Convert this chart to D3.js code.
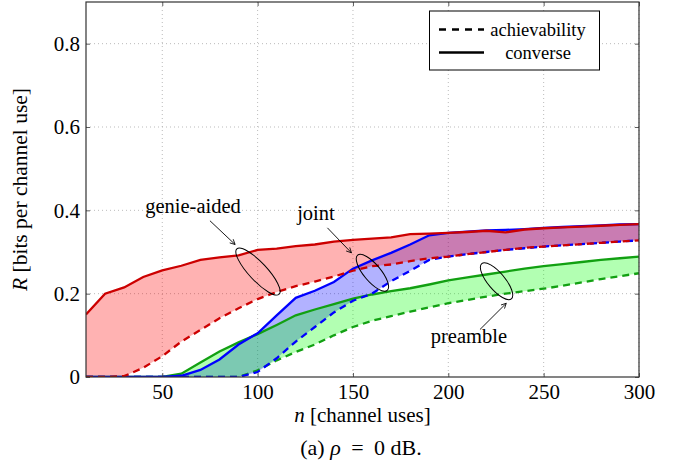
<!DOCTYPE html>
<html><head><meta charset="utf-8">
<script src="https://cdn.jsdelivr.net/npm/d3@7"></script>
<style>body{margin:0;background:#fff}svg{display:block}</style>
</head><body>
<svg id="c" width="681" height="468" font-family="Liberation Serif"></svg>
<script>
// ---- data ----
const nVals = [10,20,30,40,50,60,70,80,90,100,110,120,130,140,150,160,170,180,190,200,210,220,230,240,250,260,270,280,290,300];
const genieConverse = [0.150,0.200,0.215,0.240,0.256,0.267,0.281,0.287,0.292,0.305,0.308,0.314,0.318,0.325,0.329,0.332,0.335,0.343,0.344,0.346,0.348,0.351,0.347,0.354,0.357,0.359,0.361,0.363,0.365,0.367];
const genieAchiev   = [0,0,0.002,0.022,0.050,0.085,0.113,0.141,0.165,0.187,0.204,0.218,0.229,0.241,0.255,0.266,0.270,0.278,0.285,0.289,0.295,0.300,0.305,0.310,0.313,0.316,0.319,0.322,0.325,0.328];
const jointConverse = [0,0,0,0,0,0.003,0.017,0.042,0.078,0.105,0.148,0.190,0.207,0.228,0.260,0.280,0.298,0.318,0.340,0.346,0.349,0.352,0.353,0.355,0.358,0.360,0.362,0.364,0.366,0.367];
const jointAchiev   = [0,0,0,0,0,0,0,0,0,0.012,0.045,0.085,0.120,0.155,0.183,0.200,0.230,0.255,0.281,0.289,0.295,0.300,0.305,0.309,0.313,0.316,0.319,0.322,0.325,0.328];
const preConverse   = [0,0,0,0,0,0.008,0.035,0.061,0.083,0.103,0.125,0.148,0.162,0.175,0.188,0.198,0.206,0.213,0.222,0.232,0.239,0.246,0.253,0.260,0.266,0.271,0.276,0.281,0.285,0.289];
const preAchiev     = [0,0,0,0,0,0,0,0,0,0.016,0.040,0.060,0.078,0.100,0.120,0.135,0.146,0.157,0.167,0.177,0.185,0.193,0.200,0.206,0.212,0.219,0.227,0.235,0.242,0.249];
const xTicks = [50,100,150,200,250,300];
const yTicks = [0,0.2,0.4,0.6,0.8];
const legendLabels = ["achievability","converse"];
const annoLabels = ["genie-aided","joint","preamble"];

// ---- layout ----
const FONT = "Liberation Serif";
const svg = d3.select("#c");
const L=86, R=639, T=2, B=377;
const x = d3.scaleLinear().domain([10,300]).range([L,R]);
const y = d3.scaleLinear().domain([0,0.9]).range([B,T]);

const series = [
  {name:"joint", conv:jointConverse, ach:jointAchiev, fill:"rgb(0,0,255)", line:"#0000ff"},
  {name:"pre", conv:preConverse, ach:preAchiev, fill:"rgb(0,255,0)", line:"#12a012"},
  {name:"genie", conv:genieConverse, ach:genieAchiev, fill:"rgb(255,0,0)", line:"#cc0000"}
];

// grid
const g = svg.append("g");
g.selectAll(".gx").data(xTicks).enter().append("line")
  .attr("x1",d=>x(d)).attr("x2",d=>x(d)).attr("y1",T).attr("y2",B)
  .attr("stroke","#aaa").attr("stroke-width",0.8).attr("stroke-dasharray","1,3");
g.selectAll(".gy").data(yTicks.filter(d=>d>0)).enter().append("line")
  .attr("x1",L).attr("x2",R).attr("y1",d=>y(d)).attr("y2",d=>y(d))
  .attr("stroke","#aaa").attr("stroke-width",0.8).attr("stroke-dasharray","1,3");

svg.append("clipPath").attr("id","pc").append("rect")
  .attr("x",L).attr("y",T).attr("width",R-L).attr("height",B-T);
const plot = svg.append("g").attr("clip-path","url(#pc)");

// fills
series.forEach(s=>{
  const pts = nVals.map((n,i)=>({n, hi:s.conv[i], lo:s.ach[i]}));
  const area = d3.area().x(d=>x(d.n)).y0(d=>y(d.lo)).y1(d=>y(d.hi));
  plot.append("path").datum(pts).attr("d",area).attr("fill",s.fill).attr("fill-opacity",0.3).attr("stroke","none");
});
// lines
const drawOrder = [series[1], series[0], series[2]];
drawOrder.forEach(s=>{
  const line = d3.line().x((d,i)=>x(nVals[i])).y(d=>y(d));
  plot.append("path").datum(s.ach).attr("d",line).attr("fill","none")
    .attr("stroke",s.line).attr("stroke-width",2.3).attr("stroke-dasharray","7,5");
  plot.append("path").datum(s.conv).attr("d",line).attr("fill","none")
    .attr("stroke",s.line).attr("stroke-width",2.3);
});

// axes
const xAxisB = d3.axisBottom(x).tickValues(xTicks).tickSizeInner(-4).tickSizeOuter(0).tickPadding(7).tickFormat(d3.format("d"));
const xAxisT = d3.axisTop(x).tickValues(xTicks).tickSizeInner(-4).tickSizeOuter(0).tickFormat("");
const yAxisL = d3.axisLeft(y).tickValues(yTicks).tickSizeInner(-4).tickSizeOuter(0).tickPadding(6).tickFormat(d=>d===0?"0":d3.format(".1f")(d));
const yAxisR = d3.axisRight(y).tickValues(yTicks).tickSizeInner(-4).tickSizeOuter(0).tickFormat("");
function styleAxis(sel){
  sel.attr("font-family",FONT).attr("font-size",21);
  sel.select(".domain").remove();
  sel.selectAll("line").attr("stroke","#333").attr("stroke-width",0.8);
  sel.selectAll("text").attr("font-family",FONT).attr("font-size",21).attr("fill","#000");
}
svg.append("g").attr("transform",`translate(0,${B})`).call(xAxisB).call(styleAxis);
svg.append("g").attr("transform",`translate(0,${T})`).call(xAxisT).call(styleAxis);
svg.append("g").attr("transform",`translate(${L},0)`).call(yAxisL).call(styleAxis);
svg.append("g").attr("transform",`translate(${R},0)`).call(yAxisR).call(styleAxis);
svg.append("rect").attr("x",L).attr("y",T).attr("width",R-L).attr("height",B-T)
  .attr("fill","none").attr("stroke","#333").attr("stroke-width",1.2);

// axis labels
const xl = svg.append("text").attr("x",(L+R)/2).attr("y",421.5).attr("text-anchor","middle").attr("font-size",21).attr("font-family",FONT);
xl.append("tspan").attr("font-style","italic").text("n");
xl.append("tspan").text(" [channel uses]");
const yl = svg.append("text").attr("transform",`translate(27,${(T+B)/2}) rotate(-90)`).attr("text-anchor","middle").attr("font-size",21.5).attr("font-family",FONT);
yl.append("tspan").attr("font-style","italic").text("R");
yl.append("tspan").text(" [bits per channel use]");
const cap = svg.append("text").attr("x",361).attr("y",455).attr("text-anchor","middle").attr("font-size",22).attr("font-family",FONT);
cap.append("tspan").text("(a) ");
cap.append("tspan").attr("font-style","italic").text("ρ");
cap.append("tspan").attr("dx",5).text(" =");
cap.append("tspan").attr("dx",5).text(" 0 dB.");

// annotations (data coords)
const annos = [
  {label:annoLabels[0], tx:66.1, ty:0.394, a0:[75.0,0.375], a1:[88.2,0.318], cx:100.2, cy:0.253, rx:31, ry:9, rot:47},
  {label:annoLabels[1], tx:130.6, ty:0.377, a0:[136.6,0.358], a1:[149.2,0.298], cx:160.2, cy:0.250, rx:23, ry:8.5, rot:50},
  {label:annoLabels[2], tx:210.8, ty:0.082, a0:[216.6,0.114], a1:[230.4,0.177], cx:225.3, cy:0.230, rx:23, ry:8.5, rot:50}
];
svg.append("defs").append("marker").attr("id","arr").attr("viewBox","0 0 10 10").attr("refX",9).attr("refY",5)
  .attr("markerWidth",7).attr("markerHeight",7).attr("orient","auto")
  .append("path").attr("d","M1,1 L9,5 L1,9").attr("fill","none").attr("stroke","#000").attr("stroke-width",1.3);
annos.forEach(a=>{
  svg.append("ellipse").attr("cx",0).attr("cy",0).attr("rx",a.rx).attr("ry",a.ry)
    .attr("transform",`translate(${x(a.cx)},${y(a.cy)}) rotate(${a.rot})`)
    .attr("fill","none").attr("stroke","#000").attr("stroke-width",1);
  svg.append("line").attr("x1",x(a.a0[0])).attr("y1",y(a.a0[1])).attr("x2",x(a.a1[0])).attr("y2",y(a.a1[1]))
    .attr("stroke","#000").attr("stroke-width",0.9).attr("marker-end","url(#arr)");
  svg.append("text").attr("x",x(a.tx)).attr("y",y(a.ty)).attr("text-anchor","middle").attr("font-size",20.5).attr("font-family",FONT).text(a.label);
});

// legend
const lg = svg.append("g");
lg.append("rect").attr("x",429.5).attr("y",11).attr("width",170).attr("height",59).attr("fill","#fff").attr("stroke","#000").attr("stroke-width",1);
const legItems = [{label:legendLabels[0], dash:"7,6"},{label:legendLabels[1], dash:null}];
legItems.forEach((it,i)=>{
  const yy = 29.5 + i*23;
  lg.append("line").attr("x1",439).attr("x2",484).attr("y1",yy).attr("y2",yy).attr("stroke","#000").attr("stroke-width",2.4)
    .attr("stroke-dasharray",it.dash);
  lg.append("text").attr("x",538).attr("y",yy+6).attr("text-anchor","middle").attr("font-size",18.5).attr("font-family",FONT).text(it.label);
});
</script>
</body></html>
